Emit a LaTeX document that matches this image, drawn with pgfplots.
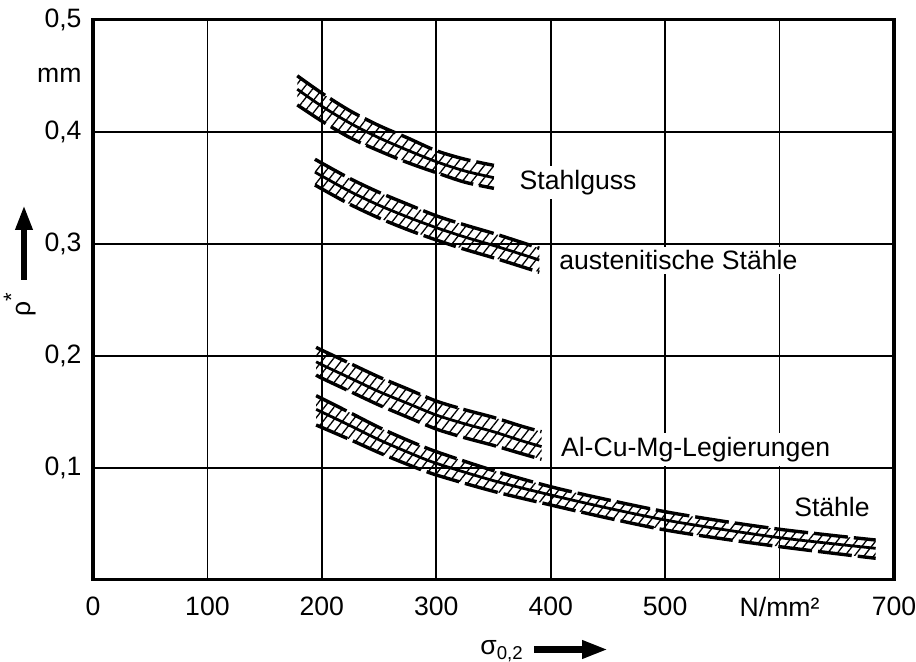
\documentclass[border=0pt]{standalone}
\usepackage{pgfplots}
\pgfplotsset{compat=1.18}
\usepackage{pgfplotstable}
\usepgfplotslibrary{fillbetween}
\usetikzlibrary{patterns.meta,arrows.meta}
\usepackage{fontspec}
\setmainfont{Liberation Sans}

\pgfplotstableread{
x     top     mid     bot
178.5 0.4500  0.4380  0.4240
200   0.4345  0.4228  0.4095
225   0.4185  0.4075  0.3945
250   0.4055  0.3946  0.3830
275   0.3945  0.3835  0.3725
300   0.3831  0.3733  0.3635
325   0.3755  0.3650  0.3550
350.4 0.3700  0.3590  0.3495
}\stahlguss

\pgfplotstableread{
x     top     mid     bot
194   0.3755  0.3640  0.3525
200   0.3720  0.3605  0.3490
225   0.3580  0.3465  0.3350
250   0.3459  0.3344  0.3230
275   0.3353  0.3239  0.3126
300   0.3250  0.3144  0.3034
325   0.3168  0.3060  0.2950
350   0.3093  0.2985  0.2875
375   0.3011  0.2905  0.2795
390   0.2960  0.2855  0.2746
}\austenit

\pgfplotstableread{
x     top     mid     bot
195   0.2076  0.1947  0.1829
200   0.2050  0.1920  0.1800
225   0.1930  0.1800  0.1680
250   0.1810  0.1680  0.1560
275   0.1703  0.1575  0.1452
300   0.1596  0.1471  0.1346
325   0.1518  0.1392  0.1268
350   0.1450  0.1322  0.1200
375   0.1370  0.1240  0.1125
392   0.1322  0.1189  0.1076
}\alcumg

\pgfplotstableread{
x     top     mid     bot
195   0.1644  0.1522  0.1382
225   0.1490  0.1375  0.1250
250   0.1360  0.1250  0.1135
275   0.1246  0.1140  0.1030
300   0.1144  0.1040  0.0936
350   0.0975  0.0885  0.0790
400   0.0831  0.0757  0.0668
450   0.0714  0.0640  0.0551
500   0.0608  0.0534  0.0445
550   0.0524  0.0450  0.0366
600   0.0451  0.0376  0.0296
650   0.0392  0.0318  0.0233
684   0.0355  0.0281  0.0192
}\staehle

\tikzset{
  bandedge/.style={black, line width=1.7pt, dash pattern=on 17pt off 3pt, smooth},
  bandmid/.style={black, line width=1.4pt, smooth},
  hatch/.style={draw=none, pattern={Lines[angle=52,distance=3.8pt,line width=0.65pt]}},
}

\begin{document}
\fontsize{13.3}{16}\selectfont
\begin{tikzpicture}
\begin{axis}[
  at={(0pt,0pt)}, anchor=south west,
  scale only axis, width=400.5pt, height=280pt,
  xmin=0, xmax=700, ymin=0, ymax=0.5,
  xtick={0,100,200,300,400,500,600,700},
  xticklabels={0,100,200,300,400,500,N/mm²,700},
  ytick={0.1,0.2,0.3,0.4,0.5},
  yticklabels={{0,1},{0,2},{0,3},{0,4},{0,5}},
  grid=major, major grid style={black, line width=0.8pt},
  major tick length=0pt,
  axis line style={line width=1.6pt},
  xticklabel style={yshift=-4.1pt},
  yticklabel style={xshift=-1.1pt},
  set layers,
  clip=false,
  no markers,
  cycle list={{black}},
]
% Stahlguss
\addplot[name path=sgT, bandedge] table[x=x,y=top]{\stahlguss};
\addplot[name path=sgB, bandedge] table[x=x,y=bot]{\stahlguss};
\addplot[bandmid] table[x=x,y=mid]{\stahlguss};
\addplot[hatch] fill between[of=sgT and sgB];
% austenitische
\addplot[name path=auT, bandedge] table[x=x,y=top]{\austenit};
\addplot[name path=auB, bandedge] table[x=x,y=bot]{\austenit};
\addplot[bandmid] table[x=x,y=mid]{\austenit};
\addplot[hatch] fill between[of=auT and auB];
% Al-Cu-Mg
\addplot[name path=alT, bandedge] table[x=x,y=top]{\alcumg};
\addplot[name path=alB, bandedge] table[x=x,y=bot]{\alcumg};
\addplot[bandmid] table[x=x,y=mid]{\alcumg};
\addplot[hatch] fill between[of=alT and alB];
% Staehle
\addplot[name path=stT, bandedge] table[x=x,y=top]{\staehle};
\addplot[name path=stB, bandedge] table[x=x,y=bot]{\staehle};
\addplot[bandmid] table[x=x,y=mid]{\staehle};
\addplot[hatch] fill between[of=stT and stB];

\node[anchor=base west, fill=white, inner sep=2pt] at (axis cs:369,0.3489) {Stahlguss};
\node[anchor=base west, fill=white, inner sep=2pt] at (axis cs:403.7,0.2766) {austenitische Stähle};
\node[anchor=base west, fill=white, inner sep=2pt] at (axis cs:405.2,0.1105) {Al-Cu-Mg-Legierungen};
\node[anchor=base west, fill=white, inner sep=2pt] at (axis cs:609,0.0563) {Stähle};
\node[anchor=east, xshift=-1.1pt] at (axis cs:0,0.45) {mm};
\end{axis}
\pgfresetboundingbox
\path[use as bounding box] (-46.5pt,-41.1pt) rectangle (411.5pt,289.9pt);
\draw[line width=3.3pt, -{Triangle[length=12.5pt, width=8pt]}] (-34.5pt,149.9pt) -- (-34.5pt,187.4pt);
\node[rotate=90] at (-36.5pt,137.4pt) {ρ\raisebox{0.45em}{\fontsize{11}{12}\selectfont *}};
\node[anchor=base west, inner sep=0pt] at (193.5pt,-37.6pt) {σ\textsubscript{0,2}};
\draw[line width=3.5pt, -{Triangle[length=13pt, width=8.5pt]}] (220.5pt,-34.85pt) -- (257.5pt,-34.85pt);
\end{tikzpicture}
\end{document}
